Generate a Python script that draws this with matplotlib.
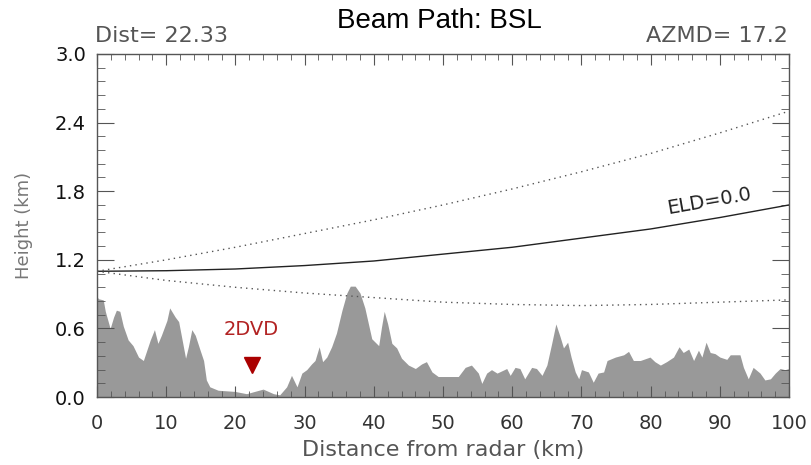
import numpy as np
import matplotlib
matplotlib.use("Agg")
import matplotlib.pyplot as plt
from matplotlib.ticker import MultipleLocator

# beam path (km) every 10 km
beam_x = [0, 10, 20, 30, 40, 50, 60, 70, 80, 90, 100]
beam_center = [1.10, 1.105, 1.12, 1.15, 1.19, 1.25, 1.31, 1.39, 1.47, 1.57, 1.68]
beam_upper = [1.10, 1.20, 1.31, 1.43, 1.55, 1.68, 1.82, 1.97, 2.13, 2.31, 2.50]
beam_lower = [1.10, 1.02, 0.96, 0.91, 0.87, 0.83, 0.81, 0.80, 0.81, 0.83, 0.85]

# terrain profile along the beam
terr_x = [0.0, 0.2, 0.9, 1.2, 1.9, 2.4, 2.8, 3.3, 3.8, 4.5, 5.2, 6.0, 6.7, 7.2, 7.7,
          8.3, 8.8, 9.3, 10.1, 10.5, 11.3, 11.8, 12.3, 12.8, 13.2, 13.7, 14.2, 14.9,
          15.4, 15.8, 16.3, 17.5, 19.9, 21.6, 24.0, 25.5, 26.4, 27.4, 28.1, 28.9,
          29.6, 30.3, 31.0, 31.5, 32.1, 32.6, 33.2, 33.9, 34.6, 35.4, 36.1, 36.6,
          37.3, 38.0, 38.7, 39.7, 40.7, 41.1, 41.5, 42.0, 42.6, 43.3, 44.0, 45.0,
          46.0, 46.9, 47.6, 48.4, 49.3, 50.8, 52.2, 53.2, 54.1, 55.1, 55.6, 56.3,
          57.0, 57.8, 58.5, 59.2, 59.7, 60.4, 61.1, 61.8, 62.8, 63.5, 64.3, 65.0,
          65.7, 66.3, 66.9, 67.4, 68.0, 68.5, 69.1, 69.6, 70.0, 71.0, 71.7, 72.4,
          73.2, 73.7, 74.9, 76.1, 76.8, 77.5, 78.5, 79.9, 80.6, 81.4, 82.3, 83.3,
          84.1, 84.7, 85.5, 86.2, 86.9, 87.4, 88.0, 88.6, 89.3, 90.0, 91.0, 91.5,
          92.9, 93.4, 94.1, 94.8, 95.8, 96.5, 97.3, 98.0, 98.7, 99.4, 100.0]
terr_h = [0.88, 0.86, 0.85, 0.75, 0.60, 0.70, 0.76, 0.75, 0.62, 0.50, 0.45, 0.35, 0.32,
          0.41, 0.50, 0.59, 0.47, 0.54, 0.67, 0.78, 0.70, 0.66, 0.50, 0.34, 0.44, 0.59,
          0.54, 0.41, 0.32, 0.15, 0.09, 0.06, 0.05, 0.03, 0.07, 0.03, 0.02, 0.09, 0.19,
          0.09, 0.21, 0.24, 0.29, 0.32, 0.44, 0.31, 0.35, 0.44, 0.56, 0.76, 0.91, 0.97,
          0.97, 0.91, 0.78, 0.51, 0.45, 0.61, 0.75, 0.64, 0.47, 0.43, 0.34, 0.28, 0.25,
          0.29, 0.31, 0.22, 0.18, 0.18, 0.18, 0.26, 0.28, 0.21, 0.12, 0.21, 0.24, 0.21,
          0.23, 0.25, 0.19, 0.26, 0.25, 0.16, 0.26, 0.25, 0.19, 0.28, 0.47, 0.64, 0.53,
          0.43, 0.48, 0.35, 0.22, 0.16, 0.24, 0.22, 0.13, 0.21, 0.22, 0.32, 0.35, 0.37,
          0.40, 0.32, 0.32, 0.35, 0.31, 0.28, 0.31, 0.35, 0.44, 0.39, 0.42, 0.32, 0.41,
          0.35, 0.48, 0.39, 0.38, 0.35, 0.33, 0.37, 0.37, 0.26, 0.16, 0.26, 0.21, 0.15,
          0.16, 0.21, 0.25, 0.24, 0.25]

site_name = "2DVD"
site_dist = 22.33
site_h = 0.28
azmd = 17.2
elev = 0.0

fig = plt.figure(figsize=(8.11, 4.65), dpi=100)
ax = fig.add_axes([0.1196, 0.146, 0.8534, 0.738])

ax.fill_between(terr_x, 0, terr_h, color="#999999", lw=0)
ax.plot(beam_x, beam_center, color="#222222", lw=1.0)
ax.plot(beam_x, beam_upper, color="#555555", lw=1.0, ls=(0, (1, 3)))
ax.plot(beam_x, beam_lower, color="#555555", lw=1.0, ls=(0, (1, 3)))

ax.plot([site_dist], [site_h], marker="v", color="#aa0000", ms=12, ls="none")
ax.text(site_dist, site_h + 0.31, site_name, color="#b22222", fontsize=14,
        ha="center", va="center")
ax.text(88.4, 1.71, "ELD=%.1f" % elev, color="#222222", fontsize=14,
        ha="center", va="center", rotation=10)

ax.set_xlim(0, 100)
ax.set_ylim(0, 3.0)
ax.xaxis.set_major_locator(MultipleLocator(10))
ax.xaxis.set_minor_locator(MultipleLocator(2))
ax.yaxis.set_major_locator(MultipleLocator(0.6))
ax.yaxis.set_minor_locator(MultipleLocator(0.12))
ax.yaxis.set_major_formatter(matplotlib.ticker.FormatStrFormatter("%.1f"))

ax.tick_params(axis="x", which="major", direction="in", length=8, top=True,
               labelsize=14, labelcolor="#333333", color="#555555", pad=12)
ax.tick_params(axis="x", which="minor", direction="in", length=4, top=True,
               color="#555555")
ax.tick_params(axis="y", which="major", direction="in", length=12, right=True,
               labelsize=14, labelcolor="#111111", color="#555555", pad=8)
ax.tick_params(axis="y", which="minor", direction="in", length=6, right=True,
               color="#555555")
for s in ax.spines.values():
    s.set_color("#555555")
    s.set_linewidth(1.0)

ax.set_xlabel("Distance from radar (km)", fontsize=16, color="#555555", labelpad=5)
ax.set_ylabel("Height (km)", fontsize=13, color="#777777", labelpad=16)

fig.text(0.542, 0.955, "Beam Path: BSL", fontsize=20, family="Liberation Sans",
         ha="center", va="center")
fig.text(0.117, 0.922, "Dist= %.2f" % site_dist, fontsize=16, color="#555555",
         ha="left", va="center")
fig.text(0.972, 0.922, "AZMD= %.1f" % azmd, fontsize=16, color="#555555",
         ha="right", va="center")

fig.savefig("out.png", dpi=100)
